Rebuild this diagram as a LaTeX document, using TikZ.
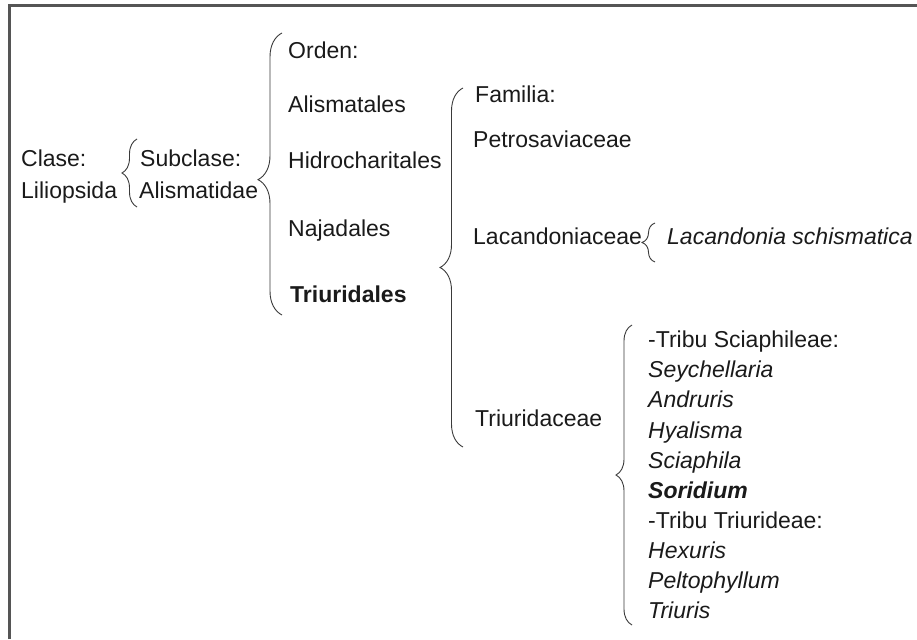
\documentclass[tikz,border=0pt]{standalone}
\usepackage{fontspec}
\setmainfont{Liberation Sans}
\usetikzlibrary{decorations.pathreplacing}
\definecolor{grigio}{HTML}{555555}
\definecolor{testo}{HTML}{1A1A1A}
\definecolor{graffacol}{HTML}{3A3A3A}
\tikzset{
    voce/.style={anchor=base west, inner sep=0pt, text=testo, font=\fontsize{23}{28}\selectfont},
    graffa/.style 2 args={decorate, decoration={brace, amplitude=#1, aspect=#2}, draw=graffacol, line width=0.9pt},
}
\begin{document}
\begin{tikzpicture}[x=1pt, y=-1pt]
        \useasboundingbox (0,0) rectangle (917,639);
        % cornice
        \draw[grigio, line width=2.2pt] (9.5,639) -- (9.5,5.5) -- (917,5.5);

        % Classe e sottoclasse
        \node[voce] (clase_node) at (21,167) {Clase:};
        \node[voce] (liliopsida_node) at (21,198) {Liliopsida};
        \node[voce] (subclase_node) at (140,167) {Subclase:};
        \node[voce] (alismatidae_node) at (139,198) {Alismatidae};

        % Ordini
        \node[voce] (orden_node) at (288,59) {Orden:};
        \node[voce] (alismatales_node) at (288,113) {Alismatales};
        \node[voce] (hidro_node) at (288,168) {Hidrocharitales};
        \node[voce] (najadales_node) at (288,236) {Najadales};
        \node[voce, font=\fontsize{23}{28}\selectfont\bfseries] (triuridales_node) at (290,302) {Triuridales};

        % Famiglie
        \node[voce] (familia_node) at (475,103) {Familia:};
        \node[voce] (petro_node) at (473,148) {Petrosaviaceae};
        \node[voce] (lacan_node) at (473,244) {Lacandoniaceae};
        \node[voce, font=\fontsize{23}{28}\selectfont\itshape] (schism_node) at (667,244) {Lacandonia schismatica};
        \node[voce] (triuridaceae_node) at (475,426) {Triuridaceae};

        % Tribu e generi
        \node[voce] (sciaphileae_node) at (648,347) {-Tribu Sciaphileae:};
        \node[voce, font=\fontsize{23}{28}\selectfont\itshape] (seych_node) at (648,377) {Seychellaria};
        \node[voce, font=\fontsize{23}{28}\selectfont\itshape] (andruris_node) at (648,407) {Andruris};
        \node[voce, font=\fontsize{23}{28}\selectfont\itshape] (hyalisma_node) at (648,438) {Hyalisma};
        \node[voce, font=\fontsize{23}{28}\selectfont\itshape] (sciaphila_node) at (648,468) {Sciaphila};
        \node[voce, font=\fontsize{23}{28}\selectfont\bfseries\itshape] (soridium_node) at (648,498) {Soridium};
        \node[voce] (triurideae_node) at (648,528) {-Tribu Triurideae:};
        \node[voce, font=\fontsize{23}{28}\selectfont\itshape] (hexuris_node) at (648,558) {Hexuris};
        \node[voce, font=\fontsize{23}{28}\selectfont\itshape] (pelto_node) at (648,588) {Peltophyllum};
        \node[voce, font=\fontsize{23}{28}\selectfont\itshape] (triuris_node) at (648,618) {Triuris};

        % estremi delle graffe
        \coordinate (g1_top) at (137,139);
        \coordinate (g1_bot) at (137,207);
        \coordinate (g2_top) at (282,33);
        \coordinate (g2_bot) at (282,315);
        \coordinate (g3_top) at (463,88);
        \coordinate (g3_bot) at (463,447);
        \coordinate (g4_top) at (655,223);
        \coordinate (g4_bot) at (655,262);
        \coordinate (g5_top) at (632,325);
        \coordinate (g5_bot) at (632,625);

        \draw[graffa={15}{0.5}] (g1_bot) -- (g1_top);
        \draw[graffa={24}{0.48}] (g2_bot) -- (g2_top);
        \draw[graffa={23}{0.5}] (g3_bot) -- (g3_top);
        \draw[graffa={13}{0.5}] (g4_bot) -- (g4_top);
        \draw[graffa={16}{0.5}] (g5_bot) -- (g5_top);
    \end{tikzpicture}
\end{document}
